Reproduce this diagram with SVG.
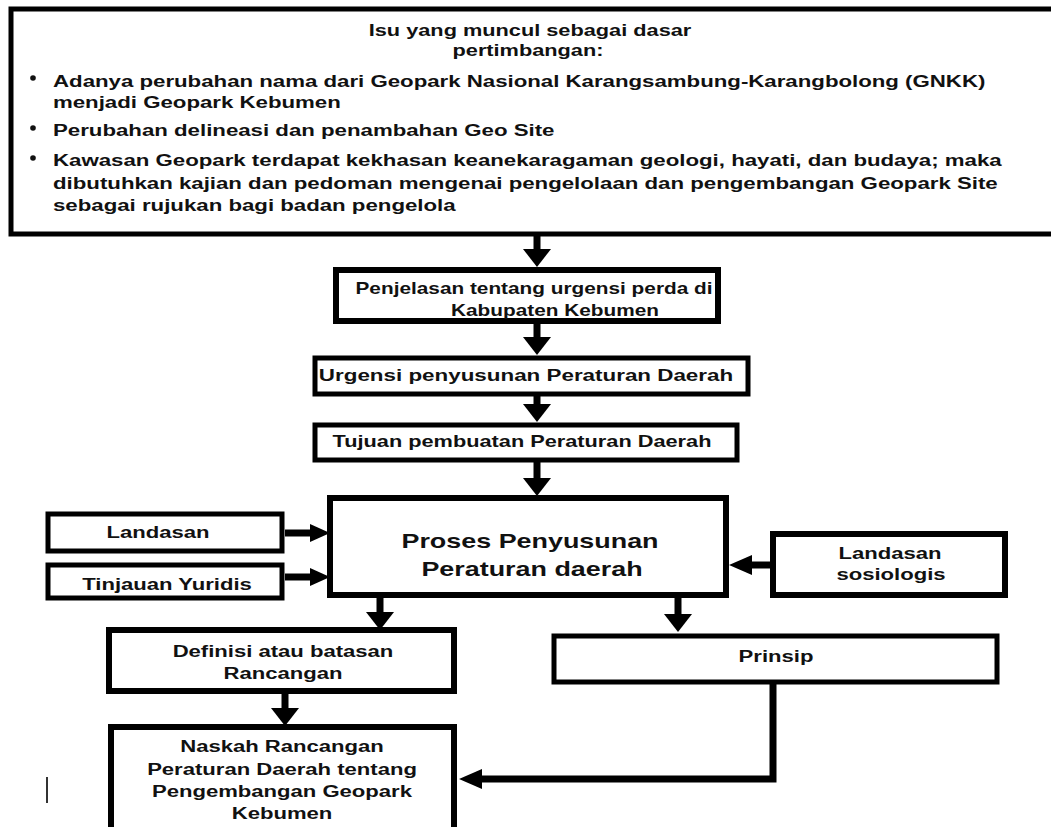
<svg xmlns="http://www.w3.org/2000/svg" width="1051" height="827" viewBox="0 0 1051 827">
<defs>
<style>
.box{fill:#fff;stroke:#000;stroke-width:5}
.thick{stroke-width:6}
.t{font-family:"Liberation Sans",Arial,sans-serif;font-weight:bold;font-size:16px;fill:#111}
.c{text-anchor:middle}
.big{font-size:19.5px}
.conn{fill:none;stroke:#000;stroke-width:7}
.thin{fill:none;stroke:#333;stroke-width:2}
</style>
<marker id="hd" markerUnits="userSpaceOnUse" orient="auto" markerWidth="18" markerHeight="28" refX="0" refY="14" overflow="visible"><path d="M0,0 L18,14 L0,28 Z" fill="#000"/></marker>
<marker id="hs" markerUnits="userSpaceOnUse" orient="auto" markerWidth="20" markerHeight="18" refX="0" refY="9" overflow="visible"><path d="M0,0 L20,9 L0,18 Z" fill="#000"/></marker>
<marker id="hl" markerUnits="userSpaceOnUse" orient="auto" markerWidth="23" markerHeight="20" refX="0" refY="10" overflow="visible"><path d="M0,0 L23,10 L0,20 Z" fill="#000"/></marker>
</defs>
<rect width="1051" height="827" fill="#fff"/>

<g id="connectors">
<path class="conn" d="M537,236 V249" marker-end="url(#hd)"/>
<path class="conn" d="M537,323 V337" marker-end="url(#hd)"/>
<path class="conn" d="M537,396 V404" marker-end="url(#hd)"/>
<path class="conn" d="M537,462 V478" marker-end="url(#hd)"/>
<path class="conn" d="M285,533 H310" marker-end="url(#hs)"/>
<path class="conn" d="M285,577 H310" marker-end="url(#hs)"/>
<path class="conn" d="M776,565 H752" marker-end="url(#hl)"/>
<path class="conn" d="M380,598 V612" marker-end="url(#hd)"/>
<path class="conn" d="M678,598 V614" marker-end="url(#hd)"/>
<path class="conn" d="M285,693 V708" marker-end="url(#hd)"/>
<path class="conn" d="M773,680 V779 H482" marker-end="url(#hl)"/>
<path class="thin" d="M47,777 V803"/>
</g>

<g id="node-isu">
<rect class="box" x="11" y="9" width="1045" height="225"/>
<text class="t c" transform="translate(530,36) scale(1.36,1)">Isu yang muncul sebagai dasar</text>
<text class="t c" transform="translate(528,56) scale(1.36,1)">pertimbangan:</text>
<circle cx="33" cy="78" r="2.8" fill="#111"/>
<circle cx="33" cy="128" r="2.8" fill="#111"/>
<circle cx="33" cy="158" r="2.8" fill="#111"/>
<text class="t" transform="translate(53,87) scale(1.39,1)">Adanya perubahan nama dari Geopark Nasional Karangsambung-Karangbolong (GNKK)</text>
<text class="t" transform="translate(53,108) scale(1.39,1)">menjadi Geopark Kebumen</text>
<text class="t" transform="translate(53,136) scale(1.39,1)">Perubahan delineasi dan penambahan Geo Site</text>
<text class="t" transform="translate(53,166) scale(1.39,1)">Kawasan Geopark terdapat kekhasan keanekaragaman geologi, hayati, dan budaya; maka</text>
<text class="t" transform="translate(53,189) scale(1.39,1)">dibutuhkan kajian dan pedoman mengenai pengelolaan dan pengembangan Geopark Site</text>
<text class="t" transform="translate(53,211) scale(1.39,1)">sebagai rujukan bagi badan pengelola</text>
</g>

<g id="node-penjelasan">
<rect class="box thick" x="336" y="270" width="382" height="51"/>
<text class="t c" transform="translate(534,294) scale(1.3,1)">Penjelasan tentang urgensi perda di</text>
<text class="t c" transform="translate(555,316) scale(1.3,1)">Kabupaten Kebumen</text>
</g>

<g id="node-urgensi">
<rect class="box" x="315" y="358" width="433" height="36"/>
<text class="t c" transform="translate(526,381) scale(1.4,1)">Urgensi penyusunan Peraturan Daerah</text>
</g>

<g id="node-tujuan">
<rect class="box" x="315" y="425" width="422" height="35"/>
<text class="t c" transform="translate(522,447) scale(1.36,1)">Tujuan pembuatan Peraturan Daerah</text>
</g>

<g id="node-proses">
<rect class="box thick" x="330" y="498" width="396" height="97"/>
<text class="t c big" transform="translate(530,548) scale(1.38,1)">Proses Penyusunan</text>
<text class="t c big" transform="translate(532,576) scale(1.38,1)">Peraturan daerah</text>
</g>

<g id="node-landasan">
<rect class="box" x="48" y="514" width="234" height="37"/>
<text class="t c" transform="translate(158,538) scale(1.38,1)">Landasan</text>
</g>

<g id="node-tinjauan">
<rect class="box" x="48" y="565" width="234" height="33"/>
<text class="t c" transform="translate(167,590) scale(1.38,1)">Tinjauan Yuridis</text>
</g>

<g id="node-sosiologis">
<rect class="box thick" x="773" y="534" width="232" height="61"/>
<text class="t c" transform="translate(890,559) scale(1.38,1)">Landasan</text>
<text class="t c" transform="translate(891,580) scale(1.38,1)">sosiologis</text>
</g>

<g id="node-definisi">
<rect class="box thick" x="109" y="630" width="345" height="61"/>
<text class="t c" transform="translate(283,657) scale(1.38,1)">Definisi atau batasan</text>
<text class="t c" transform="translate(283,679) scale(1.38,1)">Rancangan</text>
</g>

<g id="node-prinsip">
<rect class="box" x="554" y="636" width="443" height="46"/>
<text class="t c" transform="translate(776,662) scale(1.38,1)">Prinsip</text>
</g>

<g id="node-naskah">
<rect class="box thick" x="111" y="727" width="343" height="110"/>
<text class="t c" transform="translate(282,752) scale(1.38,1)">Naskah Rancangan</text>
<text class="t c" transform="translate(282,775) scale(1.38,1)">Peraturan Daerah tentang</text>
<text class="t c" transform="translate(282,797) scale(1.38,1)">Pengembangan Geopark</text>
<text class="t c" transform="translate(282,819) scale(1.38,1)">Kebumen</text>
</g>
</svg>
